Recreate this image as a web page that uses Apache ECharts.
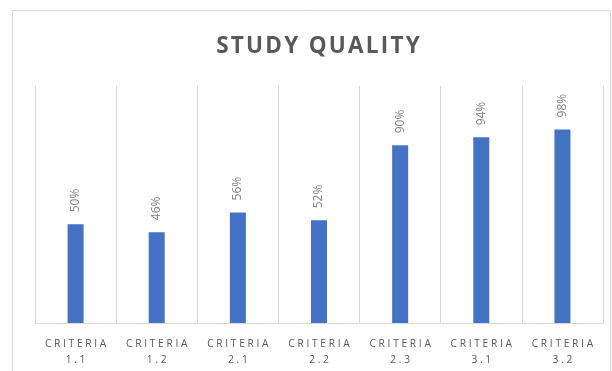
<!DOCTYPE html>
<html><head><meta charset="utf-8">
<script src="https://cdn.jsdelivr.net/npm/echarts@6/dist/echarts.min.js"></script>
<style>html,body{margin:0;padding:0;background:#fff}#c{width:612px;height:371px}</style>
</head><body><div id="c"></div>
<script>
var categories = ["CRITERIA 1.1","CRITERIA 1.2","CRITERIA 2.1","CRITERIA 2.2","CRITERIA 2.3","CRITERIA 3.1","CRITERIA 3.2"];
var values = [0.50,0.46,0.56,0.52,0.90,0.94,0.98];
var titleText = "STUDY QUALITY";

function spaced(s, sp){ return s.split('').join(sp); }
var chart = echarts.init(document.getElementById('c'));
chart.setOption({
  animation:false,
  graphic:[{type:'rect',shape:{x:12.5,y:10.5,width:598,height:380},style:{fill:'none',stroke:'#D9D9D9',lineWidth:1},silent:true}],
  title:{text:spaced(titleText,'\u200A'),left:313,top:30,textAlign:'center',
    textStyle:{fontFamily:'Open Sans',fontWeight:'bold',fontSize:22.5,color:'#595959'}},
  grid:{left:35,right:9,top:86,bottom:48},
  xAxis:{type:'category',data:categories,
    axisLine:{lineStyle:{color:'#D9D9D9'}},
    axisTick:{show:false},
    splitLine:{show:true,lineStyle:{color:'#D9D9D9',width:1}},
    axisLabel:{interval:0,margin:13,lineHeight:16,color:'#595959',fontFamily:'Open Sans',fontSize:10.2,
      formatter:function(v){var p=v.split(' ');return spaced(p[0],'\u2009\u200A')+'\n'+spaced(p[1],'\u2009\u200A');}}},
  yAxis:{type:'value',min:0,max:1.2,show:false,splitLine:{show:false}},
  series:[{type:'bar',data:values,barWidth:16,itemStyle:{color:'#4472C4'},
    label:{show:true,position:'top',rotate:90,align:'left',verticalAlign:'middle',distance:12,
      color:'#7F7F7F',fontFamily:'Open Sans',fontSize:12,
      formatter:function(p){return Math.round(p.value*100)+'%';}}}]
});
</script></body></html>
